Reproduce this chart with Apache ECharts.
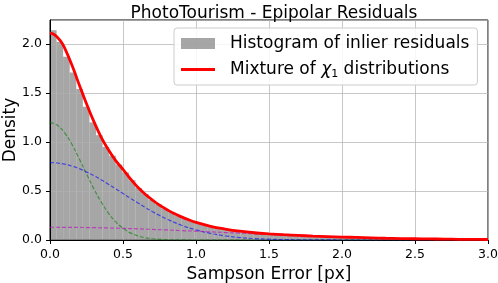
<!DOCTYPE html>
<html>
<head>
<meta charset="utf-8">
<script src="https://cdn.jsdelivr.net/npm/echarts@6/dist/echarts.min.js"></script>
<style>html,body{margin:0;padding:0;background:#fff}#c{width:498px;height:283px}</style>
</head>
<body>
<div id="c"></div>
<script>
// ---- data ----
const titleText = 'PhotoTourism - Epipolar Residuals';
const xName = 'Sampson Error [px]';
const yName = 'Density';
const histName = 'Histogram of inlier residuals';
const mixName = 'Mixture of χ1 distributions';

const binWidth = 0.045;
const histValues = [
  2.14, 2.02, 1.87, 1.71, 1.54, 1.36, 1.20, 1.07, 0.95, 0.86,
  0.77, 0.69, 0.61, 0.53, 0.47, 0.41, 0.365, 0.32, 0.285, 0.25,
  0.222, 0.196, 0.174, 0.156, 0.139, 0.125, 0.113, 0.103, 0.094, 0.085,
  0.078, 0.071, 0.065, 0.060, 0.055, 0.051, 0.047, 0.044, 0.041, 0.038,
  0.035, 0.032, 0.030, 0.028, 0.026, 0.024, 0.022, 0.020, 0.019, 0.017,
  0.016, 0.015, 0.013, 0.012, 0.011, 0.010, 0.010, 0.009, 0.008, 0.007,
  0.007, 0.006, 0.006, 0.005, 0.005, 0.004, 0.004
];

const mixX = [0, 0.025, 0.05, 0.075, 0.1, 0.15, 0.2, 0.25, 0.3, 0.35, 0.4, 0.45, 0.5, 0.55, 0.6, 0.65, 0.7, 0.75, 0.8, 0.85, 0.9, 0.95, 1.0,
  1.1, 1.2, 1.3, 1.4, 1.5, 1.6, 1.7, 1.8, 1.9, 2.0, 2.1, 2.2, 2.3, 2.4, 2.5, 2.6, 2.7, 2.8, 2.9, 3.0];
const mixY = [2.11, 2.10, 2.07, 2.025, 1.96, 1.785, 1.585, 1.39, 1.21, 1.05, 0.92, 0.81, 0.72, 0.625, 0.54, 0.47, 0.41, 0.355, 0.31, 0.27, 0.236, 0.206, 0.18,
  0.14, 0.112, 0.09, 0.074, 0.063, 0.054, 0.047, 0.040, 0.035, 0.030, 0.026, 0.022, 0.018, 0.015, 0.013, 0.011, 0.009, 0.007, 0.006, 0.005];

const compX = [0, 0.05, 0.1, 0.15, 0.2, 0.25, 0.3, 0.35, 0.4, 0.45, 0.5, 0.55, 0.6, 0.65, 0.7, 0.75, 0.8, 0.9, 1.0, 1.1, 1.2, 1.3, 1.4, 1.5, 1.6, 1.7, 1.8, 1.9, 2.0,
  2.2, 2.4, 2.6, 2.8, 3.0];
const greenY = [1.2, 1.172, 1.094, 0.977, 0.830, 0.675, 0.524, 0.389, 0.275, 0.185, 0.120, 0.073, 0.0435, 0.024, 0.013, 0.007, 0.0033, 0.0007, 0, 0, 0, 0, 0, 0, 0, 0, 0, 0, 0,
  0, 0, 0, 0, 0];
const blueY = [0.79, 0.786, 0.774, 0.754, 0.728, 0.694, 0.657, 0.615, 0.570, 0.523, 0.474, 0.426, 0.379, 0.334, 0.291, 0.251, 0.214, 0.151, 0.103, 0.067, 0.042, 0.025, 0.0145, 0.008, 0.0043, 0.0022, 0.0011, 0.0005, 0.0002,
  0, 0, 0, 0, 0];
const magentaY = [0.130, 0.1299, 0.1295, 0.1289, 0.128, 0.127, 0.126, 0.1245, 0.123, 0.121, 0.119, 0.1165, 0.114, 0.111, 0.108, 0.1055, 0.103, 0.096, 0.090, 0.083, 0.076, 0.070, 0.063, 0.057, 0.050, 0.045, 0.039, 0.034, 0.030,
  0.022, 0.015, 0.011, 0.0072, 0.0047];

const xTicks = [0, 3, 0.5];   // min, max, interval
const yTicks = [0, 2.245, 0.5];

// ---- chart ----
const FONT = 'DejaVu Sans';
const pair = (xs, ys) => xs.map((x, i) => [x, ys[i]]);
const histData = histValues.map((v, i) => [i * binWidth, (i + 1) * binWidth, v]);

const chart = echarts.init(document.getElementById('c'), null, {renderer: 'canvas'});
const axisCommon = {
  z: 3,
  axisLine: {show: true, lineStyle: {color: '#000', width: 1}},
  axisTick: {show: true, inside: false, length: 4, lineStyle: {color: '#000', width: 1}},
  splitLine: {show: true, lineStyle: {color: 'rgba(176,176,176,0.7)', width: 1}},
  axisLabel: {color: '#000', fontFamily: FONT, fontSize: 12.5, margin: 8, formatter: v => v.toFixed(1)},
  nameTextStyle: {color: '#000', fontFamily: FONT, fontSize: 17}
};
const lineIcon = 'path://M0,0 L0,0 M0,4 L34,4 L34,7 L0,7 Z M0,11 L0,11';
chart.setOption({
  animation: false,
  backgroundColor: '#fff',
  title: {
    text: titleText, left: 269, top: 0, textAlign: 'center',
    textStyle: {fontFamily: FONT, fontSize: 17, fontWeight: 'normal', color: '#000'}
  },
  grid: {left: 50, right: 10, top: 20, bottom: 43, containLabel: false, outerBoundsMode: 'none',
    show: true, borderColor: '#000', borderWidth: 1, backgroundColor: 'transparent'},
  legend: {
    orient: 'vertical', left: 174, top: 28,
    padding: [5, 8, 5, 7], itemGap: 5, itemWidth: 34, itemHeight: 11,
    backgroundColor: 'rgba(255,255,255,0.85)', borderColor: '#cccccc', borderWidth: 1, borderRadius: 3,
    selectedMode: false,
    textStyle: {fontFamily: FONT, fontSize: 17, lineHeight: 21, color: '#000', padding: [0, 0, 0, 10],
      rich: {
        s: {fontFamily: FONT, fontSize: 11, lineHeight: 21, color: '#000', verticalAlign: 'bottom', padding: [0, 0, 0, 0]},
        i: {fontFamily: FONT, fontSize: 17, lineHeight: 21, fontStyle: 'italic', color: '#000'},
        n: {fontFamily: FONT, fontSize: 17, lineHeight: 21, color: '#000'}
      }},
    formatter: name => name === mixName ? '{n|Mixture of }{i|χ}{s|1}{n| distributions}' : name,
    data: [{name: histName, icon: 'rect'}, {name: mixName, icon: lineIcon, itemStyle: {color: '#ff0000'}}]
  },
  xAxis: Object.assign({}, axisCommon, {
    type: 'value', min: xTicks[0], max: xTicks[1], interval: xTicks[2],
    name: xName, nameLocation: 'middle', nameGap: 22
  }),
  yAxis: Object.assign({}, axisCommon, {
    type: 'value', min: yTicks[0], max: yTicks[1], interval: yTicks[2],
    name: yName, nameLocation: 'middle', nameGap: 31, nameMoveOverlap: false,
    axisLabel: Object.assign({}, axisCommon.axisLabel, {showMaxLabel: false, formatter: v => (Math.abs(v / 0.5 - Math.round(v / 0.5)) < 1e-6 ? v.toFixed(1) : '')})
  }),
  series: [
    {
      name: histName, type: 'custom', z: 1, clip: true,
      itemStyle: {color: 'rgba(128,128,128,0.7)'},
      encode: {x: [0, 1], y: 2},
      data: histData,
      renderItem: (params, api) => {
        const p0 = api.coord([api.value(0), api.value(2)]);
        const p1 = api.coord([api.value(1), 0]);
        return {type: 'rect', shape: {x: p0[0], y: p0[1], width: p1[0] - p0[0], height: p1[1] - p0[1]},
          style: {fill: 'rgba(128,128,128,0.7)'}};
      }
    },
    {name: 'g', type: 'line', z: 4, symbol: 'none', smooth: 0.4, data: pair(compX, greenY),
      lineStyle: {color: 'rgba(0,128,0,0.6)', width: 1.2, type: [4, 2]}},
    {name: 'b', type: 'line', z: 4, symbol: 'none', smooth: 0.4, data: pair(compX, blueY),
      lineStyle: {color: 'rgba(0,0,255,0.6)', width: 1.2, type: [4, 2]}},
    {name: 'm', type: 'line', z: 4, symbol: 'none', smooth: 0.4, data: pair(compX, magentaY),
      lineStyle: {color: 'rgba(191,0,191,0.6)', width: 1.2, type: [4, 2]}},
    {name: mixName, type: 'line', z: 5, symbol: 'none', smooth: 0.4, data: pair(mixX, mixY),
      itemStyle: {color: '#ff0000'}, lineStyle: {color: '#ff0000', width: 2.8}}
  ]
});
</script>
</body>
</html>
